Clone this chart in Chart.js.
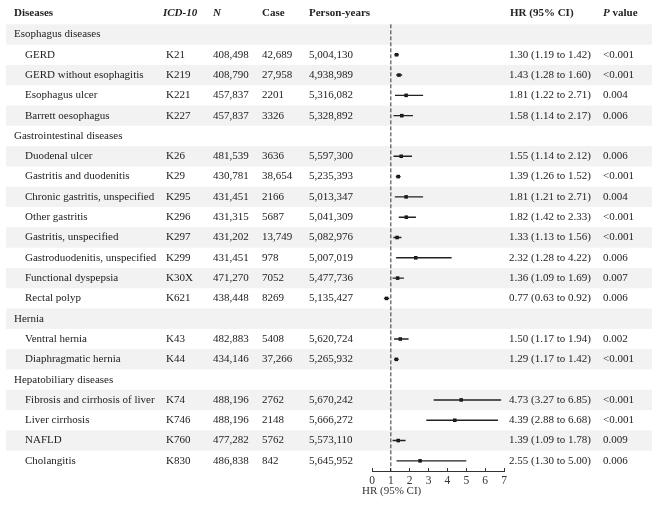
<!DOCTYPE html>
<html>
<head>
<meta charset="utf-8">
<script src="https://cdn.jsdelivr.net/npm/chart.js@4.4.1/dist/chart.umd.min.js"></script>
<style>
  body { margin: 0; background: #fff; }
  #wrap { width: 661px; height: 508px; position: relative; }
</style>
</head>
<body>
<div id="wrap"><canvas id="forest"></canvas></div>
<script>
// Table rows (group headers have an empty ICD-10 code)
const diseases = [
  "Esophagus diseases", "GERD", "GERD without esophagitis", "Esophagus ulcer", "Barrett oesophagus",
  "Gastrointestinal diseases", "Duodenal ulcer", "Gastritis and duodenitis", "Chronic gastritis, unspecified",
  "Other gastritis", "Gastritis, unspecified", "Gastroduodenitis, unspecified", "Functional dyspepsia", "Rectal polyp",
  "Hernia", "Ventral hernia", "Diaphragmatic hernia",
  "Hepatobiliary diseases", "Fibrosis and cirrhosis of liver", "Liver cirrhosis", "NAFLD", "Cholangitis",
]
const icd10 = ["", "K21", "K219", "K221", "K227", "", "K26", "K29", "K295", "K296", "K297", "K299", "K30X", "K621",
  "", "K43", "K44", "", "K74", "K746", "K760", "K830"]
const nCount = ["", "408,498", "408,790", "457,837", "457,837", "", "481,539", "430,781", "431,451", "431,315",
  "431,202", "431,451", "471,270", "438,448", "", "482,883", "434,146", "", "488,196", "488,196", "477,282", "486,838"]
const caseCount = ["", "42,689", "27,958", "2201", "3326", "", "3636", "38,654", "2166", "5687", "13,749", "978",
  "7052", "8269", "", "5408", "37,266", "", "2762", "2148", "5762", "842"]
const personYears = ["", "5,004,130", "4,938,989", "5,316,082", "5,328,892", "", "5,597,300", "5,235,393",
  "5,013,347", "5,041,309", "5,082,976", "5,007,019", "5,477,736", "5,135,427", "", "5,620,724", "5,265,932",
  "", "5,670,242", "5,666,272", "5,573,110", "5,645,952"]
const hr = [null, 1.30, 1.43, 1.81, 1.58, null, 1.55, 1.39, 1.81, 1.82, 1.33, 2.32, 1.36, 0.77,
  null, 1.50, 1.29, null, 4.73, 4.39, 1.39, 2.55]
const hrLow = [null, 1.19, 1.28, 1.22, 1.14, null, 1.14, 1.26, 1.21, 1.42, 1.13, 1.28, 1.09, 0.63,
  null, 1.17, 1.17, null, 3.27, 2.88, 1.09, 1.30]
const hrHigh = [null, 1.42, 1.60, 2.71, 2.17, null, 2.12, 1.52, 2.71, 2.33, 1.56, 4.22, 1.69, 0.92,
  null, 1.94, 1.42, null, 6.85, 6.68, 1.78, 5.00]
const pValues = ["", "<0.001", "<0.001", "0.004", "0.006", "", "0.006", "<0.001", "0.004", "<0.001", "<0.001",
  "0.006", "0.007", "0.006", "", "0.002", "<0.001", "", "<0.001", "<0.001", "0.009", "0.006"]
const xTicks = [0, 1, 2, 3, 4, 5, 6, 7]

const FONT = '"Liberation Serif", "Times New Roman", serif'
const INK = "#222"

// points and CI segments (null breaks between segments)
const pointData = []
const ciData = []
hr.forEach((v, i) => {
  if (v === null) return
  pointData.push({ x: v, y: i })
  ciData.push({ x: hrLow[i], y: i }, { x: hrHigh[i], y: i }, { x: null, y: null })
})

// table text + row stripes
const tablePlugin = {
  id: "table",
  beforeDraw(chart) {
    const { ctx } = chart
    const y = chart.scales.y
    const h = Math.abs(y.getPixelForValue(1) - y.getPixelForValue(0))
    ctx.save()
    ctx.fillStyle = "#f2f2f2"
    diseases.forEach((d, i) => {
      if (i % 2 === 0) {
        const cy = y.getPixelForValue(i)
        ctx.fillRect(6, cy - h / 2, 646, h)
      }
    })
    ctx.restore()
  },
  afterDraw(chart) {
    const { ctx } = chart
    const y = chart.scales.y
    const x = chart.scales.x
    ctx.save()
    ctx.fillStyle = INK
    ctx.textBaseline = "middle"
    ctx.textAlign = "left"

    // header
    const hy = y.getPixelForValue(-1) - 1
    ctx.font = "bold 11px " + FONT
    ctx.fillText("Diseases", 14, hy)
    ctx.fillText("Case", 262, hy)
    ctx.fillText("Person-years", 309, hy)
    ctx.fillText("HR (95% CI)", 510, hy)
    ctx.fillText(" value", 603 + ctx.measureText("P").width, hy)
    ctx.font = "italic bold 11px " + FONT
    ctx.fillText("ICD-10", 163, hy)
    ctx.fillText("N", 213, hy)
    ctx.fillText("P", 603, hy)

    ctx.font = "11px " + FONT
    diseases.forEach((d, i) => {
      const cy = y.getPixelForValue(i)
      if (icd10[i] === "") {
        ctx.fillText(d, 14, cy)
        return
      }
      ctx.fillText(d, 25, cy)
      ctx.fillText(icd10[i], 166, cy)
      ctx.fillText(nCount[i], 213, cy)
      ctx.fillText(caseCount[i], 262, cy)
      ctx.fillText(personYears[i], 309, cy)
      ctx.fillText(hr[i].toFixed(2) + " (" + hrLow[i].toFixed(2) + " to " + hrHigh[i].toFixed(2) + ")", 509, cy)
      ctx.fillText(pValues[i], 603, cy)
    })

    // axis title
    ctx.fillStyle = "#333"
    ctx.fillText("HR (95% CI)", x.getPixelForValue(0) - 10, 491)
    ctx.restore()
  },
}

new Chart(document.getElementById("forest"), {
  type: "scatter",
  data: {
    datasets: [
      {
        // reference line at HR = 1
        data: [{ x: 1, y: -0.5 }, { x: 1, y: diseases.length - 0.5 }],
        showLine: true,
        borderColor: "#333",
        borderWidth: 1,
        borderDash: [4, 2],
        pointRadius: 0,
      },
      {
        data: ciData,
        showLine: true,
        spanGaps: false,
        borderColor: INK,
        borderWidth: 1.4,
        pointRadius: 0,
      },
      {
        data: pointData,
        pointStyle: "rect",
        pointRadius: 2.5,
        backgroundColor: "#111",
        borderColor: "#111",
        borderWidth: 0,
      },
    ],
  },
  options: {
    responsive: true,
    maintainAspectRatio: false,
    animation: false,
    events: [],
    layout: { padding: { left: 372, right: 157, top: 4, bottom: 0 } },
    plugins: { legend: { display: false }, tooltip: { enabled: false } },
    scales: {
      y: {
        type: "linear",
        reverse: true,
        min: -1.5,
        max: diseases.length - 0.5,
        display: false,
      },
      x: {
        type: "linear",
        min: 0,
        max: 7,
        afterBuildTicks: (scale) => {
          scale.ticks = xTicks.map((v) => ({ value: v }))
        },
        afterFit: (scale) => {
          scale.height = 37
        },
        border: { color: "#333", width: 1 },
        // ticks point up into the plot, as in the reference
        grid: { drawOnChartArea: false, tickLength: -3, color: "#333" },
        ticks: {
          color: "#333",
          padding: 6,
          font: { family: FONT, size: 11.5 },
        },
      },
    },
  },
  plugins: [tablePlugin],
})
</script>
</body>
</html>
